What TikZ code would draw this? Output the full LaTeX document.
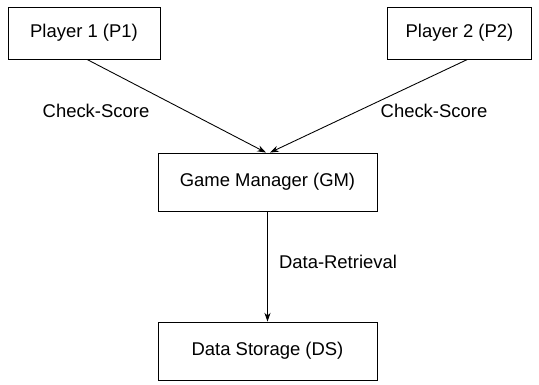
\documentclass[tikz,border=0pt]{standalone}
\usepackage{fontspec}
\setmainfont{Liberation Sans}
\usepackage{tikz}
\usetikzlibrary{arrows.meta, positioning, calc}

\begin{document}
\begin{tikzpicture}[x=0.02cm, y=-0.02cm, font=\fontsize{10.5pt}{12pt}\selectfont,
  box/.style={draw, line width=0.5pt, inner sep=0pt},
  link/.style={-{Stealth[length=5pt, width=3.5pt]}, line width=0.5pt}]
\useasboundingbox (0,0) rectangle (539,385);
\node (p1) at (84, 33) [box, minimum width=3.04cm, minimum height=1.04cm] {Player 1 (P1)};
\node (p2) at (459.5, 33) [box, minimum width=2.89cm, minimum height=1.04cm] {Player 2 (P2)};
\node (gm) at (267.5, 182) [box, minimum width=4.38cm, minimum height=1.16cm] {Game Manager (GM)};
\node (ds) at (267.5, 351) [box, minimum width=4.38cm, minimum height=1.16cm] {Data Storage (DS)};

\node (cs1) at (96, 111) {Check-Score};
\node (cs2) at (434, 111) {Check-Score};
\node (dr) at (338, 262) {Data-Retrieval};

\draw[link] ([xshift=0.06cm]p1.south) -- ([xshift=-0.03cm]gm.north);
\draw[link] ([xshift=0.16cm]p2.south) -- ([xshift=0.05cm]gm.north);
\draw[link] (gm) -- (ds);
\end{tikzpicture}
\end{document}
